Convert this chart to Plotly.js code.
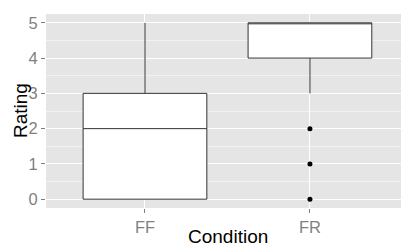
<!DOCTYPE html>
<html>
<head>
<meta charset="utf-8">
<script src="https://cdn.plot.ly/plotly-3.0.1.min.js"></script>
<style>html,body{margin:0;padding:0;background:#fff;}#plot{width:401px;height:247px;}</style>
</head>
<body>
<div id="plot"></div>
<script>
// Data
const categories = ['FF', 'FR'];
const q1 = [0, 4];
const medians = [2, 5];
const q3 = [3, 5];
const lowerWhisker = [0, 3];
const upperWhisker = [5, 5];
const outlierCategory = ['FR', 'FR', 'FR'];
const outlierValues = [2, 1, 0];
const yTicks = [0, 1, 2, 3, 4, 5];
const xTitle = 'Condition';
const yTitle = 'Rating';

const font = 'Liberation Sans, Arial, Helvetica, sans-serif';

const traces = [
  {
    type: 'box',
    x: categories,
    q1: q1,
    median: medians,
    q3: q3,
    lowerfence: lowerWhisker,
    upperfence: upperWhisker,
    boxpoints: false,
    width: 0.75,
    whiskerwidth: 0,
    fillcolor: '#ffffff',
    line: {color: '#333333', width: 1},
    hoverinfo: 'skip',
    showlegend: false
  },
  {
    type: 'scatter',
    mode: 'markers',
    x: outlierCategory,
    y: outlierValues,
    marker: {color: '#000000', size: 5},
    hoverinfo: 'skip',
    showlegend: false
  }
];

const layout = {
  width: 401,
  height: 247,
  margin: {l: 46, r: 0, t: 14, b: 39, pad: 0},
  paper_bgcolor: '#ffffff',
  plot_bgcolor: '#e5e5e5',
  showlegend: false,
  font: {family: font},
  xaxis: {
    type: 'category',
    categoryorder: 'array',
    categoryarray: categories,
    range: [-0.6, 1.552],
    showgrid: true,
    gridcolor: '#ffffff',
    gridwidth: 1,
    zeroline: false,
    showline: false,
    ticks: 'outside',
    ticklen: 4,
    tickwidth: 1,
    tickcolor: '#7f7f7f',
    tickfont: {family: font, size: 16.5, color: '#7f7f7f'},
    fixedrange: true
  },
  yaxis: {
    range: [-0.25, 5.25],
    tickvals: yTicks,
    ticktext: yTicks.map(String),
    showgrid: true,
    gridcolor: '#ffffff',
    gridwidth: 1,
    minor: {dtick: 0.5, tick0: 0, showgrid: true, gridcolor: '#f2f2f2', gridwidth: 1, ticks: ''},
    zeroline: false,
    showline: false,
    ticks: 'outside',
    ticklen: 4,
    tickwidth: 1,
    tickcolor: '#7f7f7f',
    tickfont: {family: font, size: 16.5, color: '#7f7f7f'},
    fixedrange: true
  },
  annotations: [
    {
      text: yTitle, xref: 'paper', yref: 'paper',
      x: (20 - 46) / 355, y: 0.5, xanchor: 'center', yanchor: 'middle',
      textangle: -90, showarrow: false,
      font: {family: font, size: 19, color: '#000000'}
    },
    {
      text: xTitle, xref: 'paper', yref: 'paper',
      x: (227.5 - 46) / 355, y: -(237 - 208) / 194, xanchor: 'center', yanchor: 'middle',
      showarrow: false,
      font: {family: font, size: 19, color: '#000000'}
    }
  ]
};

Plotly.newPlot('plot', traces, layout, {displayModeBar: false, staticPlot: true});
</script>
</body>
</html>
